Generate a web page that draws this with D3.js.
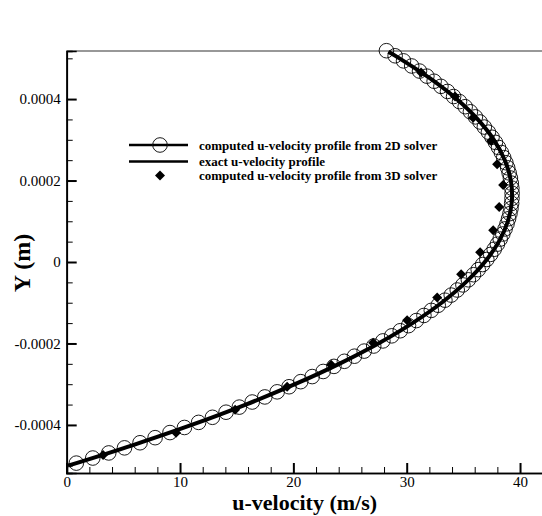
<!DOCTYPE html>
<html>
<head>
<meta charset="utf-8">
<script src="https://d3js.org/d3.v7.min.js"></script>
<style>
  body { margin: 0; background: #fff; }
  text { font-family: "Liberation Serif", "Times New Roman", serif; }
</style>
</head>
<body>
<div class="chart"></div>
<script>
// ===== data =====
// computed profile, 2D solver (cell centres)
var y2D = [-0.00049375, -0.00048125, -0.00046875, -0.00045625, -0.00044375, -0.00043125,
  -0.00041875, -0.00040625, -0.00039375, -0.00038125, -0.00036875, -0.00035625,
  -0.00034375, -0.00033125, -0.00031875, -0.00030625, -0.00029375, -0.00028125,
  -0.00026875, -0.00025625, -0.00024375, -0.00023125, -0.00021875, -0.00020625,
  -0.00019375, -0.00018125, -0.00016875, -0.00015625, -0.00014375, -0.00013125,
  -0.00011875, -0.00010625, -0.00009375, -0.00008125, -0.00006875, -0.00005625,
  -0.00004375, -0.00003125, -0.00001875, -0.00000625, 0.00000625, 0.00001875,
  0.00003125, 0.00004375, 0.00005625, 0.00006875, 0.00008125, 0.00009375,
  0.00010625, 0.00011875, 0.00013125, 0.00014375, 0.00015625, 0.00016875,
  0.00018125, 0.00019375, 0.00020625, 0.00021875, 0.00023125, 0.00024375,
  0.00025625, 0.00026875, 0.00028125, 0.00029375, 0.00030625, 0.00031875,
  0.00033125, 0.00034375, 0.00035625, 0.00036875, 0.00038125, 0.00039375,
  0.00040625, 0.00041875, 0.00043125, 0.00044375, 0.00045625, 0.00046875,
  0.00048125, 0.00049375, 0.00050625, 0.00051875];
var u2D = [0.85, 2.30, 3.71, 5.10, 6.47, 7.80, 9.11, 10.39, 11.64, 12.86, 14.06, 15.23,
  16.37, 17.48, 18.57, 19.62, 20.65, 21.66, 22.63, 23.58, 24.50, 25.39, 26.25, 27.09,
  27.90, 28.68, 29.43, 30.16, 30.85, 31.52, 32.17, 32.78, 33.37, 33.93, 34.46, 34.96,
  35.44, 35.89, 36.31, 36.70, 37.07, 37.41, 37.72, 38.00, 38.25, 38.48, 38.68, 38.85,
  38.99, 39.11, 39.20, 39.26, 39.29, 39.30, 39.28, 39.23, 39.15, 39.04, 38.91, 38.75,
  38.56, 38.35, 38.10, 37.83, 37.53, 37.21, 36.85, 36.47, 36.06, 35.62, 35.16, 34.66,
  34.14, 33.60, 33.02, 32.42, 31.78, 31.13, 30.44, 29.72, 28.98, 28.21];

// exact profile
var yExact = [-0.0005, -0.00045, -0.0004, -0.00035, -0.0003, -0.00025, -0.0002, -0.00015,
  -0.0001, -0.00005, 0, 0.00005, 0.0001, 0.00015, 0.0002, 0.00025, 0.0003, 0.00035,
  0.0004, 0.00045, 0.0005, 0.000516];
var uExact = [0.12, 5.79, 11.02, 15.80, 20.14, 24.04, 27.50, 30.51, 33.08, 35.20, 36.89,
  38.13, 38.93, 39.28, 39.19, 38.66, 37.69, 36.27, 34.41, 32.10, 29.36, 28.38];

// computed profile, 3D solver
var y3D = [0.000465, 0.000406, 0.000354, 0.000297, 0.000240, 0.000189, 0.000135, 0.000078,
  0.000024, -0.000030, -0.000087, -0.000143, -0.000198, -0.000252, -0.000306, -0.000363,
  -0.000419, -0.000474];
var u3D = [31.27, 34.27, 35.86, 37.45, 37.98, 38.51, 38.16, 37.63, 36.48, 34.80, 32.69,
  30.04, 27.04, 23.33, 19.45, 14.86, 9.65, 3.21];

// ticks
var xMajor = [0, 10, 20, 30, 40];
var xMinor = [2, 4, 6, 8, 12, 14, 16, 18, 22, 24, 26, 28, 32, 34, 36, 38, 42];
var yMajor = [-0.0004, -0.0002, 0, 0.0002, 0.0004];
var yMinor = [-0.0005, -0.00035, -0.0003, -0.00025, -0.00015, -0.0001, -0.00005,
  0.00005, 0.0001, 0.00015, 0.00025, 0.0003, 0.00035, 0.0005];

var legendLabels = ["computed u-velocity profile from 2D solver",
  "exact u-velocity profile",
  "computed u-velocity profile from 3D solver"];

// ===== layout =====
var svgWidth = 542;
var svgHeight = 516;
var margin = { top: 51, right: 0, bottom: 43, left: 66.7 };
var width = 476;
var height = svgHeight - margin.top - margin.bottom;

var svg = d3.select(".chart")
  .append("svg")
  .attr("width", svgWidth)
  .attr("height", svgHeight);

var chartGroup = svg.append("g")
  .attr("transform", `translate(${margin.left}, ${margin.top})`);

var xScale = d3.scaleLinear().domain([0, 42]).range([0, width]);
var yScale = d3.scaleLinear().domain([-0.000518, 0.000518]).range([height, 0]);

// top frame line
chartGroup.append("line")
  .attr("x1", 0).attr("x2", svgWidth)
  .attr("y1", 0).attr("y2", 0)
  .attr("stroke", "#333").attr("stroke-width", 1.2);

// x axis with inward ticks
var bottomAxis = d3.axisBottom(xScale).tickValues(xMajor).tickSize(-10).tickPadding(16)
  .tickFormat(d3.format("d"));
var xAxis = chartGroup.append("g")
  .attr("transform", `translate(0, ${height})`)
  .call(bottomAxis);
chartGroup.append("g")
  .attr("transform", `translate(0, ${height})`)
  .call(d3.axisBottom(xScale).tickValues(xMinor).tickSize(-6).tickFormat(""));

// y axis with inward ticks
var leftAxis = d3.axisLeft(yScale).tickValues(yMajor).tickSize(-10).tickPadding(16)
  .tickFormat(d => d === 0 ? "0" : d.toFixed(4));
var yAxis = chartGroup.append("g").call(leftAxis);
chartGroup.append("g")
  .call(d3.axisLeft(yScale).tickValues(yMinor).tickSize(-6).tickFormat(""));

chartGroup.selectAll(".domain")
  .attr("stroke", "#000").attr("stroke-width", 1.7);
chartGroup.selectAll(".tick line").attr("stroke", "#000").attr("stroke-width", 1);
xAxis.selectAll(".tick line").attr("stroke-width", 2);
yAxis.selectAll(".tick line").attr("stroke-width", 2);
chartGroup.selectAll(".tick text")
  .style("font-family", "'Liberation Serif', serif")
  .style("font-size", "15px")
  .attr("fill", "#000");
yAxis.selectAll(".tick text").attr("x", -6);
xAxis.selectAll(".tick text").attr("y", 3);

// axis titles
svg.append("text")
  .attr("x", margin.left + width / 2)
  .attr("y", 510)
  .attr("text-anchor", "middle")
  .attr("font-size", 22)
  .attr("font-weight", "bold")
  .text("u-velocity (m/s)");

svg.append("text")
  .attr("transform", "translate(30, 263) rotate(-90)")
  .attr("text-anchor", "middle")
  .attr("font-size", 24)
  .attr("font-weight", "bold")
  .text("Y (m)");

// exact line
var exactLine = d3.line()
  .x(d => xScale(d[0]))
  .y(d => yScale(d[1]))
  .curve(d3.curveCatmullRom);

chartGroup.append("path")
  .datum(uExact.map((u, i) => [u, yExact[i]]))
  .attr("d", exactLine)
  .attr("fill", "none")
  .attr("stroke", "#000")
  .attr("stroke-width", 4);

// 2D solver circles
chartGroup.selectAll("circle.c2d")
  .data(u2D.map((u, i) => [u, y2D[i]]))
  .enter()
  .append("circle")
  .attr("class", "c2d")
  .attr("cx", d => xScale(d[0]))
  .attr("cy", d => yScale(d[1]))
  .attr("r", 7.3)
  .attr("fill", "none")
  .attr("stroke", "#000")
  .attr("stroke-width", 0.9);

// 3D solver diamonds
var diamond = d3.symbol().type(d3.symbolSquare).size(50);
chartGroup.selectAll("path.d3d")
  .data(u3D.map((u, i) => [u, y3D[i]]))
  .enter()
  .append("path")
  .attr("class", "d3d")
  .attr("d", diamond)
  .attr("transform", d => `translate(${xScale(d[0])}, ${yScale(d[1])}) rotate(45)`)
  .attr("fill", "#000");

// legend
var legend = svg.append("g");
var rowsY = [145, 161.5, 175.5];

legend.append("line")
  .attr("x1", 129).attr("x2", 188).attr("y1", rowsY[0]).attr("y2", rowsY[0])
  .attr("stroke", "#000").attr("stroke-width", 2.5);
legend.append("circle")
  .attr("cx", 160).attr("cy", rowsY[0]).attr("r", 7.3)
  .attr("fill", "#fff").attr("stroke", "#000").attr("stroke-width", 0.9);
legend.append("line")
  .attr("x1", 160 - 7.3).attr("x2", 160 + 7.3).attr("y1", rowsY[0]).attr("y2", rowsY[0])
  .attr("stroke", "#000").attr("stroke-width", 2.5);
legend.append("line")
  .attr("x1", 129).attr("x2", 188).attr("y1", rowsY[1]).attr("y2", rowsY[1])
  .attr("stroke", "#000").attr("stroke-width", 2.5);
legend.append("path")
  .attr("d", diamond)
  .attr("transform", `translate(160, ${rowsY[2]}) rotate(45)`)
  .attr("fill", "#000");

legend.selectAll("text")
  .data(legendLabels)
  .enter()
  .append("text")
  .attr("x", 199)
  .attr("y", (d, i) => rowsY[i] + 4.5)
  .attr("font-size", 13)
  .attr("font-weight", "bold")
  .text(d => d);
</script>
</body>
</html>
